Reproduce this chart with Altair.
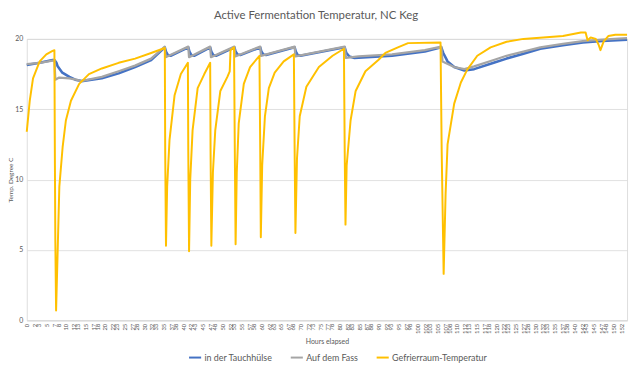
import altair as alt
import pandas as pd

# ---- data (hours, temperature °C) ----
yellow_h = [0.0, 0.76, 1.6, 3.3, 5.0, 6.6, 7.07, 7.2, 7.3, 7.5, 7.9, 8.33, 9.17, 10.0, 11.3, 13.4, 15.9, 19.2, 23.5, 27.7, 31.8,
            35.3, 35.4, 35.6, 35.9, 36.5, 37.8, 39.4, 41.2,
            41.3, 41.5, 41.8, 42.4, 43.7, 45.4, 46.9,
            47.0, 47.2, 47.6, 48.2, 49.5, 51.3, 51.9, 52.1, 53.0,
            53.2, 53.4, 53.7, 54.2, 55.5, 57.1, 59.5,
            59.7, 59.85, 60.2, 60.9, 61.9, 63.4, 65.7, 68.3,
            68.5, 68.7, 69.1, 69.8, 71.5, 74.7, 78.2, 81.1,
            81.3, 81.5, 81.8, 82.8, 84.1, 86.6, 89.9, 91.7, 94.9, 97.5, 105.8,
            106.1, 106.6, 107.1, 107.6, 109.3, 111.0, 112.6, 115.2, 118.6, 122.7, 127.0, 137.1, 141.7, 142.9,
            143.4, 144.2, 145.5, 146.2, 146.7, 147.5, 148.7, 150.5, 153.5]
yellow_v = [13.4, 15.6, 17.2, 18.4, 18.9, 19.15, 19.2, 11.0, 5.8, 0.7, 4.9, 9.5, 12.3, 14.2, 15.6, 16.8, 17.5, 17.9, 18.3, 18.6, 19.0,
            19.35, 12.0, 5.3, 9.5, 12.8, 16.0, 17.5, 18.3,
            12.0, 4.9, 10.0, 13.5, 16.5, 17.5, 18.3,
            12.0, 5.3, 10.5, 13.5, 16.3, 17.3, 17.7, 19.2, 19.4,
            12.0, 5.4, 10.5, 14.0, 16.8, 18.0, 18.8,
            12.0, 5.9, 11.0, 14.5, 16.5, 17.6, 18.4, 18.9,
            12.0, 6.2, 11.5, 14.5, 16.6, 18.0, 18.8, 19.3,
            12.0, 6.8, 11.0, 14.2, 16.3, 17.7, 18.5, 19.0, 19.4, 19.7, 19.75,
            12.0, 3.3, 9.0, 12.5, 15.4, 16.9, 17.8, 18.8, 19.4, 19.8, 20.0, 20.2, 20.45, 20.45,
            19.9, 20.1, 20.0, 19.6, 19.2, 19.8, 20.2, 20.3, 20.3]

gray_h = [0.0, 3.3, 6.6, 7.07, 7.3, 8.3, 10.9, 12.6, 13.9, 19.2, 23.5, 27.7, 31.8, 35.3,
          35.5, 41.3, 41.5, 46.9, 47.1, 53.1, 53.3, 59.7, 59.9, 68.5, 68.7, 81.3,
          81.6, 84.8, 93.4, 101.8, 106.0, 106.3, 109.3, 111.9, 114.4, 119.4, 122.7, 127.0, 131.3, 137.1,
          142.2, 147.2, 153.5]
gray_v = [18.2, 18.3, 18.45, 18.5, 17.1, 17.25, 17.2, 17.1, 17.0, 17.3, 17.7, 18.1, 18.6, 19.45,
          18.7, 19.45, 18.7, 19.45, 18.7, 19.45, 18.75, 19.45, 18.8, 19.45, 18.75, 19.45,
          18.65, 18.75, 18.9, 19.2, 19.45, 18.4, 18.0, 17.85, 18.05, 18.5, 18.8, 19.1, 19.4, 19.65,
          19.85, 19.95, 20.05]

blue_h = [0.0, 3.3, 6.6, 7.07, 7.6, 7.9, 9.1, 10.9, 12.4, 14.0, 19.2, 23.5, 27.7, 31.8, 35.3,
          35.6, 36.1, 36.8, 41.3, 41.6, 42.1, 42.8, 46.9, 47.2, 47.7, 48.4, 53.1,
          53.4, 53.9, 54.6, 59.7, 60.0, 60.5, 61.2, 68.5, 68.8, 69.3, 70.0, 81.3,
          81.7, 82.5, 83.8, 93.4, 101.8, 106.0, 106.5, 107.6, 109.3, 111.9, 114.4, 119.4, 122.7, 127.0,
          131.3, 137.1, 142.2, 147.2, 153.5]
blue_v = [18.15, 18.3, 18.5, 18.5, 18.3, 18.05, 17.6, 17.3, 17.1, 17.0, 17.2, 17.55, 18.0, 18.5, 19.4,
          19.1, 18.85, 18.8, 19.4, 19.1, 18.85, 18.8, 19.4, 19.1, 18.85, 18.8, 19.4,
          19.1, 18.9, 18.85, 19.4, 19.1, 18.9, 18.85, 19.4, 19.1, 18.85, 18.8, 19.4,
          19.0, 18.75, 18.65, 18.8, 19.1, 19.4, 19.0, 18.4, 18.0, 17.75, 17.85, 18.3, 18.6, 18.95,
          19.3, 19.55, 19.75, 19.85, 19.95]

series_names = ["in der Tauchhülse", "Auf dem Fass", "Gefrierraum-Temperatur"]
series_colors = ["#4472C4", "#A5A5A5", "#FFC000"]

x_tick_labels = [0, 2, 3, 5, 7, 8, 10, 12, 13, 15, 17, 18, 20, 22, 23, 25, 27, 28, 30, 32, 33, 35, 37, 38,
                 40, 42, 43, 45, 47, 48, 50, 52, 53, 55, 57, 58, 60, 62, 63, 65, 67, 68, 70, 72, 73, 75,
                 77, 78, 80, 82, 83, 85, 87, 88, 90, 92, 93, 95, 97, 98, 100, 102, 103, 105, 107, 108,
                 110, 112, 113, 115, 117, 118, 120, 122, 123, 125, 127, 128, 130, 132, 133, 135, 137, 138,
                 140, 142, 143, 145, 147, 148, 150, 152]
y_ticks = [0, 5, 10, 15, 20]

frames = []
for name, hs, vs in [(series_names[0], blue_h, blue_v),
                     (series_names[1], gray_h, gray_v),
                     (series_names[2], yellow_h, yellow_v)]:
    frames.append(pd.DataFrame({"hour": hs, "temp": vs, "series": name}))
df = pd.concat(frames, ignore_index=True)

FONT = "Lato"
TXT = "#595959"

x_enc = alt.X("hour:Q",
              scale=alt.Scale(domain=[0, 153.5], nice=False, zero=True),
              axis=alt.Axis(values=x_tick_labels, labelAngle=-90, labelFontSize=6, labelColor=TXT,
                            labelFont=FONT, ticks=False, grid=False, domainColor="#D9D9D9",
                            labelPadding=3, labelOverlap=False, title="Hours elapsed",
                            titleFont=FONT, titleFontSize=7, titleColor=TXT, titleFontWeight="normal",
                            titlePadding=4))
y_enc = alt.Y("temp:Q",
              scale=alt.Scale(domain=[0, 20], nice=False),
              axis=alt.Axis(values=y_ticks, labelFontSize=7, labelColor=TXT, labelFont=FONT,
                            ticks=False, domain=False, gridColor="#D9D9D9", gridWidth=0.8,
                            labelPadding=4, title="Temp. Degree C", titleFont=FONT, titleFontSize=6.5,
                            titleColor=TXT, titleFontWeight="normal", titlePadding=1))
color_enc = alt.Color("series:N",
                      scale=alt.Scale(domain=series_names, range=series_colors),
                      legend=alt.Legend(title=None, orient="none", direction="horizontal",
                                        legendX=163, legendY=315, symbolType="stroke",
                                        symbolStrokeWidth=2, symbolSize=150, labelFont=FONT,
                                        labelFontSize=9, labelColor=TXT, columnPadding=14,
                                        labelOffset=2))

widths = [2.6, 2.3, 2.0]
layers = []
for name, w in zip(series_names, widths):
    layers.append(
        alt.Chart(df).transform_filter(alt.datum.series == name)
        .mark_line(strokeWidth=w, strokeJoin="round")
        .encode(x=x_enc, y=y_enc, color=color_enc, order="hour:Q")
    )

chart = alt.layer(*layers).properties(
    width=608, height=285,
    padding={"left": 19, "top": 29, "right": 5, "bottom": 44},
    autosize=alt.AutoSizeParams(type="none"),
    title=alt.TitleParams("Active Fermentation Temperatur, NC Keg", font=FONT, fontSize=11.5,
                          fontWeight="normal", color=TXT, anchor="middle", dx=-11, offset=10),
).configure_view(stroke=None).configure(background="white")

chart.save("out.html", embed_options={"renderer": "svg", "actions": False})
